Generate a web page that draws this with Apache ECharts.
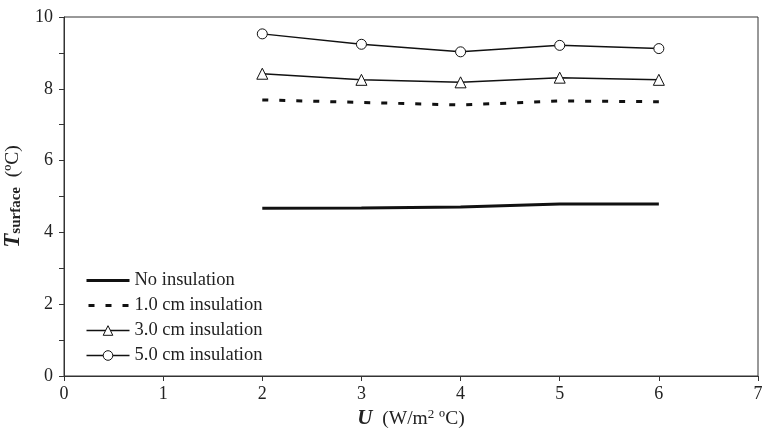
<!DOCTYPE html>
<html>
<head>
<meta charset="utf-8">
<script src="https://cdn.jsdelivr.net/npm/echarts@6/dist/echarts.min.js"></script>
<style>html,body{margin:0;padding:0;background:#fff;}#c{width:762px;height:433px;}</style>
</head>
<body>
<div id="c"></div>
<script>
var uValues = [2, 3, 4, 5, 6];
var noInsulation = [4.67, 4.68, 4.71, 4.79, 4.79];
var ins1cm = [7.69, 7.62, 7.55, 7.66, 7.64];
var ins3cm = [8.42, 8.25, 8.18, 8.31, 8.25];
var ins5cm = [9.53, 9.24, 9.03, 9.21, 9.12];
var seriesNames = ['No insulation', '1.0 cm insulation', '3.0 cm insulation', '5.0 cm insulation'];
var xTicks = [0, 1, 2, 3, 4, 5, 6, 7];
var yTicks = [0, 2, 4, 6, 8, 10];

function pairs(ys) { return uValues.map(function (u, i) { return [u, ys[i]]; }); }

var font = 'Liberation Serif, Times New Roman, serif';
var hidden = {color: 'rgba(0,0,0,0)', borderColor: 'rgba(0,0,0,0)', borderWidth: 0};
var chart = echarts.init(document.getElementById('c'), null, {renderer: 'canvas'});
chart.setOption({
  animation: false,
  backgroundColor: '#fff',
  textStyle: {fontFamily: font, color: '#222'},
  grid: {left: 64, right: 4, top: 17, bottom: 57, outerBoundsMode: 'none', containLabel: false,
         show: true, borderColor: '#333', borderWidth: 1, backgroundColor: 'transparent'},
  legend: {
    orient: 'vertical', left: 80, top: 266, itemWidth: 43, itemHeight: 12, itemGap: 6,
    textStyle: {fontFamily: font, fontSize: 18.5, color: '#222'},
    data: [
      {name: seriesNames[0], itemStyle: hidden, lineStyle: {width: 3, color: '#111'}},
      {name: seriesNames[1], itemStyle: hidden, lineStyle: {width: 3, color: '#111', type: [6, 11], dashOffset: -2}},
      {name: seriesNames[2], lineStyle: {width: 1.5, color: '#111'},
       itemStyle: {color: '#fff', borderColor: '#111', borderWidth: 1}},
      {name: seriesNames[3], lineStyle: {width: 1.5, color: '#111'},
       itemStyle: {color: '#fff', borderColor: '#111', borderWidth: 1}}
    ]
  },
  xAxis: {
    type: 'value', min: 0, max: 7, interval: 1,
    axisLine: {show: true, onZero: false, lineStyle: {color: '#333', width: 1}},
    axisTick: {show: true, inside: false, length: 5, lineStyle: {color: '#333'}},
    splitLine: {show: false},
    axisLabel: {fontFamily: font, fontSize: 18, color: '#222', margin: 9,
      formatter: function (v) { return xTicks.indexOf(v) >= 0 ? String(v) : ''; }},
    name: '{b|U}  (W/m{sup|2} ºC)', nameLocation: 'middle', nameGap: 30,
    nameTextStyle: {fontFamily: font, fontSize: 19.5, color: '#222',
      rich: {b: {fontFamily: font, fontSize: 21, fontWeight: 'bold', fontStyle: 'italic', color: '#222'},
             sup: {fontFamily: font, fontSize: 13, color: '#222', verticalAlign: 'top', padding: [0, 0, 9, 0]}}}
  },
  yAxis: {
    type: 'value', min: 0, max: 10, interval: 1,
    axisLine: {show: true, onZero: false, lineStyle: {color: '#333', width: 1}},
    axisTick: {show: true, inside: false, length: 5, lineStyle: {color: '#333'}},
    splitLine: {show: false},
    axisLabel: {fontFamily: font, fontSize: 18, color: '#222', margin: 11,
      formatter: function (v) { return yTicks.indexOf(v) >= 0 ? String(v) : ''; }},
    name: '{t|T}{s|surface}  (ºC)', nameLocation: 'middle', nameGap: 36, nameRotate: 90,
    nameTextStyle: {fontFamily: font, fontSize: 19.5, color: '#222',
      rich: {t: {fontFamily: font, fontSize: 23, fontWeight: 'bold', fontStyle: 'italic', color: '#222'},
             s: {fontFamily: font, fontSize: 15, fontWeight: 'bold', color: '#222', verticalAlign: 'bottom', padding: [7, 0, 0, 0]}}}
  },
  series: [
    {name: seriesNames[0], type: 'line', data: pairs(noInsulation), symbol: 'none',
     lineStyle: {color: '#111', width: 3}, itemStyle: {color: '#111'}},
    {name: seriesNames[1], type: 'line', data: pairs(ins1cm), symbol: 'none',
     lineStyle: {color: '#111', width: 3, type: [6, 11]}, itemStyle: {color: '#111'}},
    {name: seriesNames[2], type: 'line', data: pairs(ins3cm), symbol: 'triangle', symbolSize: 11,
     lineStyle: {color: '#111', width: 1.5}, itemStyle: {color: '#fff', borderColor: '#111', borderWidth: 1}},
    {name: seriesNames[3], type: 'line', data: pairs(ins5cm), symbol: 'circle', symbolSize: 10,
     lineStyle: {color: '#111', width: 1.5}, itemStyle: {color: '#fff', borderColor: '#111', borderWidth: 1}}
  ]
});
</script>
</body>
</html>
